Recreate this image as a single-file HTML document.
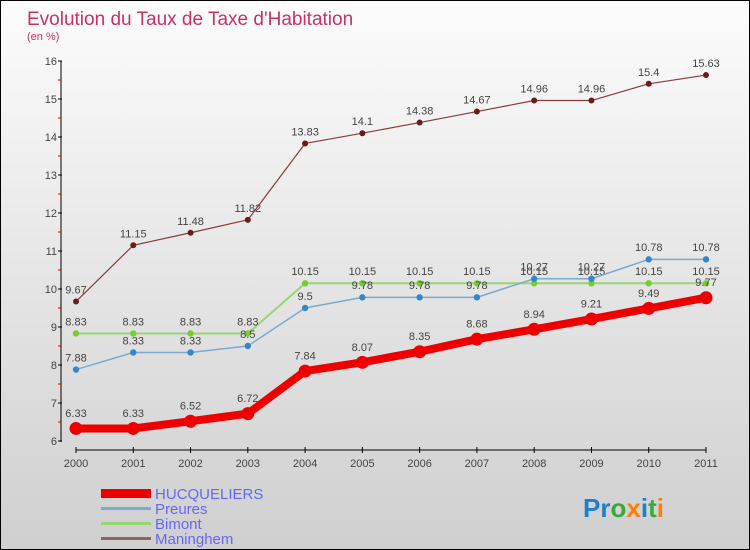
<!DOCTYPE html>
<html><head><meta charset="utf-8"><style>
body{margin:0}
#c{width:748px;height:548px;border:1px solid #000;background:linear-gradient(#fcfcfc,#cfcfcf);position:relative;font-family:"Liberation Sans",sans-serif;overflow:hidden}
text{font-family:"Liberation Sans",sans-serif}
</style></head><body>
<div id="c">
<svg id="s" width="748" height="548">
<text x="26" y="24" font-size="19" fill="#c8306a">Evolution du Taux de Taxe d'Habitation</text>
<text x="26" y="39" font-size="11" fill="#c8306a">(en %)</text>
<g id="g"></g>
<g>
<rect x="100" y="488" width="50" height="9" fill="#ee0000"/>
<text x="154" y="498" font-size="15" fill="#6666ff">HUCQUELIERS</text>
<rect x="100" y="506" width="50" height="3" fill="#7aaad0"/>
<text x="154" y="513" font-size="15" fill="#6666ff">Preures</text>
<rect x="100" y="521" width="50" height="3" fill="#99d477"/>
<text x="154" y="528" font-size="15" fill="#6666ff">Bimont</text>
<rect x="100" y="536" width="50" height="3" fill="#8b6464"/>
<text x="154" y="543" font-size="15" fill="#6666ff">Maninghem</text>
</g>
<text x="582" y="516" font-size="26" font-weight="bold"><tspan fill="#1e7fd0">Pr</tspan><tspan fill="#3aa93a">o</tspan><tspan fill="#ff7f00">x</tspan><tspan fill="#1e7fd0">i</tspan><tspan fill="#3aa93a">t</tspan><tspan fill="#ff7f00">i</tspan></text>
</svg></div>
<script>
const years=["2000","2001","2002","2003","2004","2005","2006","2007","2008","2009","2010","2011"];
const yTicks=[6,7,8,9,10,11,12,13,14,15,16];
const hucq=[6.33,6.33,6.52,6.72,7.84,8.07,8.35,8.68,8.94,9.21,9.49,9.77];
const preures=[7.88,8.33,8.33,8.5,9.5,9.78,9.78,9.78,10.27,10.27,10.78,10.78];
const bimont=[8.83,8.83,8.83,8.83,10.15,10.15,10.15,10.15,10.15,10.15,10.15,10.15];
const maninghem=[9.67,11.15,11.48,11.82,13.83,14.1,14.38,14.67,14.96,14.96,15.4,15.63];
const NS="http://www.w3.org/2000/svg",g=document.getElementById('g');
const X=i=>75+i*(630/11), Y=v=>440-(v-6)*38;
function el(t,a,p){const e=document.createElementNS(NS,t);for(const k in a)e.setAttribute(k,a[k]);(p||g).appendChild(e);return e;}
let ax=el('line',{x1:60,y1:Y(16),x2:60,y2:Y(6)+1,stroke:'#000'});


let bx=el('line',{x1:X(0),y1:449,x2:X(11),y2:449,stroke:'#000'});


yTicks.forEach(v=>{el('line',{x1:57,x2:61,y1:Y(v),y2:Y(v),stroke:'#000'});
if(v<16)el('line',{x1:57,x2:60,y1:Y(v+0.5),y2:Y(v+0.5),stroke:'#d00'});
const t=el('text',{x:56,y:Y(v)+4,'font-size':11,'text-anchor':'end',fill:'#444'});t.textContent=v;

});
years.forEach((y,i)=>{el('line',{x1:X(i),x2:X(i),y1:446,y2:452,stroke:'#000'});
const t=el('text',{x:X(i),y:466,'font-size':11,'text-anchor':'middle',fill:'#444'});t.textContent=y;

});
function series(d,col,w,r,dot,name){
const p=el('polyline',{points:d.map((v,i)=>X(i)+','+Y(v)).join(' '),fill:'none',stroke:col,'stroke-width':w,'stroke-linejoin':'round'});


d.forEach((v,i)=>{const c=el('circle',{cx:X(i),cy:Y(v),r:r,fill:dot});


const t=el('text',{x:X(i),y:Y(v)-(r+5),'font-size':11,'text-anchor':'middle',fill:'#444'});t.textContent=v;

});}
series(maninghem,'#8b3a3a',1.2,3,'#6b1a1a','maninghem');
series(bimont,'#99d477',2,3.2,'#77cc33','bimont');
series(preures,'#7aaad0',1.5,3.2,'#3388cc','preures');
series(hucq,'#ee0000',8,6.5,'#ee0000','hucqueliers');
</script></body></html>
